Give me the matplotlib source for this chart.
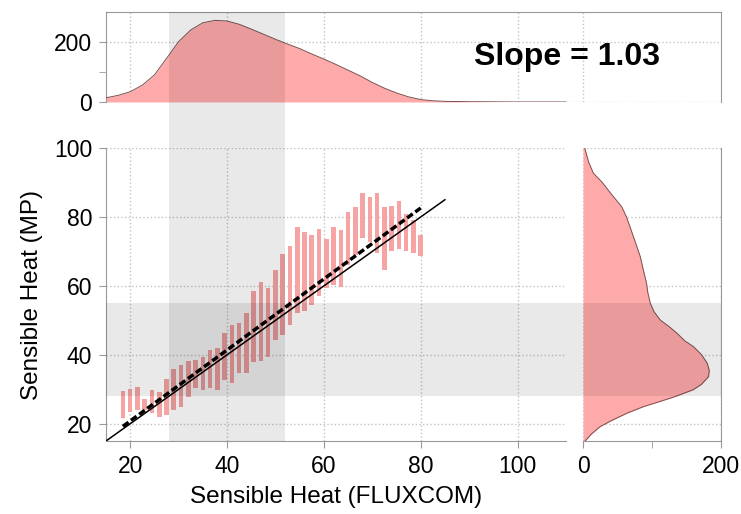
import matplotlib.pyplot as plt
from matplotlib.patches import Rectangle
from matplotlib.transforms import blended_transform_factory

plt.rcParams['font.family'] = ['Liberation Sans', 'DejaVu Sans']

# FLUXCOM bin centres and MP spread (lower / upper) in each bin
bin_x = [18.5, 20.0, 21.5, 23.0, 24.5, 26.0, 27.5, 29.0, 30.5, 32.0,
         33.5, 35.0, 36.5, 38.0, 39.5, 41.0, 42.5, 44.0, 45.5, 47.0,
         48.5, 50.0, 51.5, 53.0, 54.5, 56.0, 57.5, 59.0, 60.5, 62.0,
         63.5, 65.0, 66.5, 68.0, 69.5, 71.0, 72.5, 74.0, 75.5, 77.0,
         78.5, 80.0]
bar_lo = [21.7, 23.3, 23.9, 23.9, 23.1, 22.1, 22.6, 24.1, 25.0, 27.7,
          30.3, 29.9, 30.3, 29.7, 32.8, 31.8, 34.7, 34.7, 37.8, 38.3,
          39.5, 44.3, 45.8, 48.7, 52.1, 52.8, 54.5, 57.1, 59.3, 60.3,
          59.8, 66.1, 69.0, 73.8, 72.8, 69.5, 64.6, 70.2, 70.6, 70.2,
          69.5, 68.7]
bar_hi = [29.6, 30.1, 30.8, 27.2, 29.7, 29.1, 33.0, 36.0, 37.1, 38.1,
          38.4, 39.3, 41.4, 41.9, 46.3, 48.7, 49.2, 52.1, 58.4, 61.2,
          59.3, 64.6, 69.3, 71.6, 77.0, 75.7, 74.8, 76.4, 73.5, 77.2,
          76.2, 81.5, 82.8, 87.0, 85.7, 86.9, 82.8, 83.2, 84.7, 80.9,
          79.1, 74.8]

# 1:1 line and fitted line
one_x = [15, 85]
fit_x = [18.5, 80.0]
slope = 1.03
intercept = 0.2

# marginal distribution of FLUXCOM (top)
top_x = [15, 17.5, 20, 22.5, 25, 27.5, 30, 32.5, 35, 37.5, 40, 42.5, 45,
         47.5, 50, 52.5, 55, 57.5, 60, 62.5, 65, 67.5, 70, 72.5, 75, 77.5,
         80, 82.5, 85, 90, 95, 100, 110]
top_v = [14, 22, 34, 56, 90, 145, 201, 240, 264, 272, 270, 259, 243,
         226, 209, 193, 178, 160, 143, 125, 106, 87, 65, 46, 30, 17,
         8, 4, 2, 1, 0.5, 0, 0]

# marginal distribution of MP (right)
right_y = [15, 17, 19.2, 21, 23.1, 25, 26.5, 28, 29.9, 31.5, 33.7, 35.5,
           37.6, 40, 42.4, 44, 46.3, 48, 50.1, 52.5, 55, 58, 60.8, 65,
           68.5, 72, 77.2, 80, 83, 86.9, 90, 92.7, 96, 100.4]
right_v = [3, 12, 25, 42, 64, 88, 112, 135, 160, 172, 182, 183,
           180, 172, 160, 148, 136, 126, 112, 103, 97.5, 94, 92, 87,
           83, 77, 68, 63, 56, 40, 28, 15, 8, 2]

# interquartile ranges shaded in grey
band_x = (28, 52)
band_y = (28, 55)

pink = '#f5a3a3'
fill_pink = '#ffaaaa'
edge = '#7a5050'
spine_c = '#999999'
grid_kw = dict(linestyle=':', color='#c4c4c4', linewidth=1)
tick_fs = 16.5
label_fs = 17.5

fig = plt.figure(figsize=(7.41, 5.14), dpi=100)
main_l, main_b, main_w, main_h = 0.143, 0.142, 0.6208, 0.570
top_b, top_h, top_w = 0.8016, 0.1751, 0.830
right_l, right_w = 0.7868, 0.1862

ax = fig.add_axes([main_l, main_b, main_w, main_h])
ax_top = fig.add_axes([main_l, top_b, top_w, top_h])
ax_r = fig.add_axes([right_l, main_b, right_w, main_h], sharey=ax)

xlim = (15, 110)
ylim = (15, 100)

# main panel
bar_h = [h - l for h, l in zip(bar_hi, bar_lo)]
ax.bar(bin_x, bar_h, bottom=bar_lo, width=0.95, color=pink, zorder=2)
ax.plot(one_x, one_x, color='black', lw=1.1, zorder=3)
ax.plot(fit_x, [slope * x + intercept for x in fit_x], color='black',
        lw=2.5, dashes=(2.0, 0.9), zorder=3)
ax.set_xlim(xlim)
ax.set_ylim(ylim)
ax.set_xticks([20, 40, 60, 80, 100])
ax.set_yticks([20, 40, 60, 80, 100])
ax.grid(True, **grid_kw)
ax.set_axisbelow(True)
for s in ['top', 'right']:
    ax.spines[s].set_visible(False)
for s in ['left', 'bottom']:
    ax.spines[s].set_color(spine_c)
ax.tick_params(direction='out', length=5, color=spine_c, labelsize=tick_fs, pad=5)
ax.set_xlabel('Sensible Heat (FLUXCOM)', fontsize=label_fs, labelpad=6)
ax.set_ylabel('Sensible Heat (MP)', fontsize=label_fs, labelpad=8)

# top marginal
top_xmax = xlim[0] + (xlim[1] - xlim[0]) * top_w / main_w
ax_top.fill_between(top_x, 0, top_v, color=fill_pink, lw=0, zorder=2)
ax_top.plot(top_x, top_v, color=edge, lw=0.7, zorder=3)
ax_top.set_xlim(xlim[0], top_xmax)
ax_top.set_ylim(0, 300)
gap_x = xlim[0] + (xlim[1] - xlim[0]) * (right_l - main_l) / main_w
ax_top.set_xticks([20, 40, 60, 80, 100, gap_x])
ax_top.set_yticks([0, 200])
ax_top.set_yticks([100], minor=True)
ax_top.grid(True, **grid_kw)
ax_top.set_axisbelow(True)
ax_top.tick_params(axis='x', length=0, labelbottom=False)
ax_top.tick_params(axis='y', which='both', direction='out', length=5,
                   color=spine_c, labelsize=tick_fs, pad=5)
ax_top.spines['bottom'].set_visible(False)
for s in ['top', 'left', 'right']:
    ax_top.spines[s].set_color(spine_c)
ax_top.text(0.75, 0.5, 'Slope = 1.03', transform=ax_top.transAxes,
            fontsize=23, fontweight='bold', ha='center', va='center')

# right marginal
ax_r.fill_betweenx(right_y, 0, right_v, color=fill_pink, lw=0, zorder=2)
ax_r.plot(right_v, right_y, color=edge, lw=0.7, zorder=3)
ax_r.set_xlim(0, 200)
ax_r.set_xticks([0, 200])
ax_r.set_xticks([100], minor=True)
ax_r.grid(True, **grid_kw)
ax_r.set_axisbelow(True)
ax_r.tick_params(axis='y', length=0, labelleft=False)
ax_r.tick_params(axis='x', which='both', direction='out', length=5,
                 color=spine_c, labelsize=tick_fs, pad=5)
for s in ['top', 'left']:
    ax_r.spines[s].set_visible(False)
for s in ['bottom', 'right']:
    ax_r.spines[s].set_color(spine_c)

# grey bands spanning the panels
vtrans = blended_transform_factory(ax.transData, fig.transFigure)
fig.add_artist(Rectangle((band_x[0], main_b), band_x[1] - band_x[0],
                         top_b + top_h - main_b, transform=vtrans,
                         color='black', alpha=0.085, lw=0))
htrans = blended_transform_factory(fig.transFigure, ax.transData)
fig.add_artist(Rectangle((main_l, band_y[0]), top_w, band_y[1] - band_y[0],
                         transform=htrans, color='black', alpha=0.085, lw=0))

fig.savefig('out.png', dpi=100)
